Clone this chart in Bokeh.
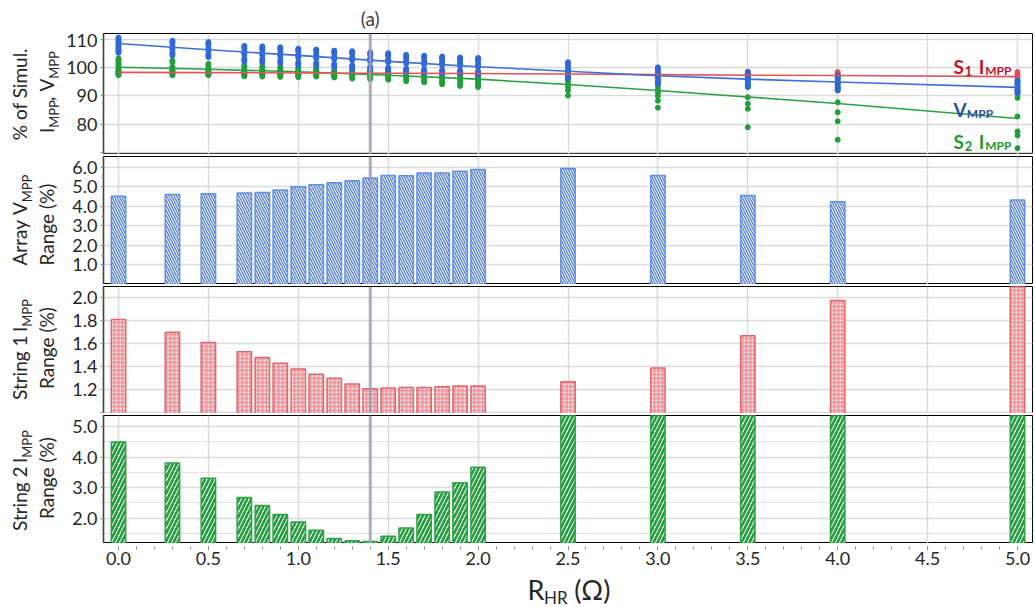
import math
from bokeh.plotting import figure
from bokeh.layouts import column, row
from bokeh.models import (Range1d, FixedTicker, Span, Label, Spacer,
                          PrintfTickFormatter)
from bokeh.core.properties import value
from bokeh.embed import file_html
from bokeh.resources import INLINE

# ---------------- data ----------------
r_hr = [0.0, 0.3, 0.5, 0.7, 0.8, 0.9, 1.0, 1.1, 1.2, 1.3, 1.4, 1.5, 1.6, 1.7,
        1.8, 1.9, 2.0, 2.5, 3.0, 3.5, 4.0, 5.0]

array_vmpp_range = [4.52, 4.61, 4.64, 4.68, 4.71, 4.83, 5.00, 5.10, 5.21, 5.31, 5.45,
                    5.58, 5.57, 5.70, 5.70, 5.80, 5.88, 5.93, 5.58, 4.56, 4.24, 4.32]
string1_impp_range = [1.81, 1.70, 1.61, 1.53, 1.48, 1.43, 1.38, 1.335, 1.30, 1.25, 1.21,
                      1.215, 1.22, 1.22, 1.226, 1.232, 1.232, 1.27, 1.39, 1.67, 1.975, 2.15]
string2_impp_range = [4.49, 3.81, 3.31, 2.68, 2.42, 2.12, 1.88, 1.61, 1.34, 1.26, 1.24,
                      1.41, 1.68, 2.12, 2.86, 3.16, 3.67, 6.2, 7.0, 7.8, 8.6, 9.8]

# % of simulated value, individual cases at each R_HR
vmpp_pts = [
    [110.6, 110.1, 109.6, 109.1, 108.6, 108.1, 107.6, 107.1, 106.6, 106.1, 105.6, 105.2],
    [109.5, 109.0, 108.5, 107.4, 106.9, 106.4, 105.3, 104.8, 104.3],
    [109.0, 108.5, 108.0, 106.9, 106.4, 105.9, 104.7, 104.2, 103.7],
    [107.7, 107.2, 106.7, 105.6, 105.1, 104.6, 103.2, 102.6, 102.0],
    [107.5, 107.0, 106.5, 105.4, 104.9, 104.4, 103.0, 102.4, 101.8],
    [107.2, 106.7, 106.2, 105.1, 104.6, 104.1, 102.7, 102.1, 101.5],
    [106.7, 106.2, 105.7, 104.6, 104.1, 103.6, 102.0, 101.4, 100.8],
    [106.4, 105.9, 105.4, 104.3, 103.8, 103.3, 101.7, 101.1, 100.5],
    [106.0, 105.5, 105.0, 103.9, 103.4, 102.9, 101.3, 100.7, 100.1],
    [105.8, 105.3, 104.8, 103.6, 103.1, 102.6, 100.8, 100.2, 99.6],
    [105.4, 104.9, 104.4, 103.2, 102.7, 102.2, 100.3, 99.7, 99.0],
    [105.1, 104.6, 104.1, 102.9, 102.4, 101.9, 100.0, 99.4, 98.8],
    [104.5, 104.0, 103.5, 102.4, 101.9, 101.4, 99.6, 99.0, 98.4],
    [104.2, 103.7, 103.2, 102.1, 101.6, 101.1, 99.3, 98.7, 98.1],
    [103.9, 103.4, 102.9, 101.8, 101.3, 100.8, 99.1, 98.5, 97.9],
    [103.6, 103.1, 102.6, 101.5, 101.0, 100.5, 98.9, 98.4, 97.9],
    [103.4, 102.9, 102.4, 101.2, 100.7, 100.2, 98.5, 97.9, 97.3],
    [101.9, 101.4, 100.9, 99.8, 99.3, 98.8, 97.3, 96.7, 96.1],
    [100.1, 99.6, 99.1, 97.9, 97.4, 96.9, 95.5, 94.9, 94.3],
    [98.4, 97.9, 97.4, 96.3, 95.8, 95.3, 94.2, 93.7, 93.2],
    [97.2, 96.7, 96.2, 95.1, 94.6, 94.1, 93.1, 92.6, 92.1],
    [95.4, 94.9, 94.4, 93.4, 92.9, 92.4, 91.8, 91.3, 90.9],
]
s1_impp_pts = [
    [99.0, 98.5, 98.0, 97.6], [98.8, 98.3, 97.9, 97.5], [98.8, 98.3, 97.9, 97.5],
    [98.7, 98.2, 97.8, 97.4], [98.7, 98.2, 97.8, 97.4], [98.7, 98.2, 97.8, 97.4],
    [98.7, 98.2, 97.8, 97.4], [98.7, 98.2, 97.8, 97.4], [98.7, 98.2, 97.8, 97.4],
    [98.7, 98.2, 97.8, 97.4], [98.7, 98.2, 97.8, 97.4], [98.7, 98.2, 97.8, 97.4],
    [98.7, 98.2, 97.8, 97.4], [98.7, 98.2, 97.8, 97.4], [98.7, 98.2, 97.8, 97.4],
    [98.7, 98.2, 97.8, 97.4], [98.7, 98.2, 97.8, 97.4], [98.6, 98.1, 97.6, 97.2],
    [98.5, 98.0, 97.5, 97.0], [98.5, 97.9, 97.3, 96.8], [98.4, 97.8, 97.2, 96.6],
    [98.4, 97.7, 97.0, 96.3],
]
s2_impp_pts = [
    [103.2, 102.6, 102.0, 101.4, 100.8, 100.2, 99.6, 99.0, 98.4, 97.8, 97.3],
    [102.5, 101.9, 100.2, 99.6, 99.0, 98.4, 97.8, 97.3],
    [101.3, 100.7, 99.6, 99.0, 98.4, 97.8, 97.3],
    [100.7, 100.1, 99.3, 98.7, 98.1, 97.5, 96.9],
    [100.5, 99.9, 99.2, 98.6, 98.0, 97.4, 96.8],
    [100.2, 99.6, 99.0, 98.4, 97.8, 97.2, 96.7],
    [99.9, 99.3, 98.8, 98.2, 97.6, 97.1, 96.6],
    [99.5, 99.0, 98.5, 97.9, 97.3, 96.8],
    [98.9, 98.4, 97.9, 97.4, 96.9, 96.5],
    [98.9, 98.3, 97.7, 97.1, 96.6, 96.1],
    [98.8, 98.2, 97.6, 97.0, 96.5, 95.9],
    [98.7, 98.1, 97.5, 96.9, 96.3, 95.7],
    [98.3, 97.7, 97.1, 96.5, 95.9, 95.2],
    [98.3, 97.6, 96.9, 96.2, 95.5, 94.8],
    [98.3, 97.5, 96.8, 96.0, 95.2, 94.7, 94.1],
    [98.3, 97.5, 96.7, 95.9, 95.1, 94.3, 93.5],
    [98.3, 97.5, 96.7, 95.9, 95.1, 94.3, 93.6, 93.1],
    [99.5, 98.6, 97.5, 96.4, 95.3, 94.2, 93.0, 91.9, 90.1],
    [97.2, 96.2, 95.0, 93.8, 92.5, 91.2, 89.9, 88.3, 85.8],
    [97.2, 96.2, 95.2, 94.1, 93.1, 89.5, 87.2, 85.4, 78.9],
    [96.0, 95.0, 94.0, 92.9, 91.9, 87.7, 84.2, 81.0, 74.5],
    [95.4, 94.3, 93.2, 92.1, 90.9, 89.3, 82.7, 77.4, 76.0, 71.5],
]

trend_x = [0.0, 0.5, 1.0, 1.5, 2.0, 2.5, 3.0, 3.5, 4.0, 5.0]
vmpp_trend = [108.5, 106.3, 104.3, 102.2, 100.3, 98.7, 97.1, 95.9, 94.9, 93.0]
s1_impp_trend = [98.3, 98.2, 98.1, 98.0, 97.9, 97.7, 97.5, 97.3, 97.2, 96.8]
s2_impp_trend = [100.1, 99.4, 98.5, 97.3, 95.9, 94.0, 91.9, 89.6, 87.3, 82.0]

marker_x = 1.4

x_ticks = [0.0, 0.5, 1.0, 1.5, 2.0, 2.5, 3.0, 3.5, 4.0, 4.5, 5.0]
x_minor = [round(i * 0.1, 1) for i in range(0, 51)]
p1_ticks = [70, 80, 90, 100, 110]
p2_ticks = [1, 2, 3, 4, 5, 6]
p2_minor = [0.5, 1.5, 2.5, 3.5, 4.5, 5.5]
p3_ticks = [1.0, 1.2, 1.4, 1.6, 1.8, 2.0]
p3_minor = [1.1, 1.3, 1.5, 1.7, 1.9]
p4_ticks = [2, 3, 4, 5]
p4_minor = [1.5, 2.5, 3.5, 4.5]

# ---------------- style ----------------
FONT = "Lato"
TXT = "#262626"
BLUE = "#2f68d6"
RED = "#e04a53"
GREEN = "#1f9e3a"
MID = 0.35   # distance from alphabetic baseline to text middle, in em

CHAR_W = {' ': 0.26, '%': 0.79, '.': 0.24, ',': 0.24, '(': 0.31, ')': 0.31,
          'A': 0.67, 'H': 0.75, 'I': 0.27, 'M': 0.88, 'P': 0.59, 'R': 0.61,
          'S': 0.52, 'V': 0.67, 'a': 0.50, 'e': 0.52, 'f': 0.32, 'g': 0.47,
          'i': 0.24, 'l': 0.24, 'm': 0.84, 'n': 0.55, 'o': 0.55, 'r': 0.36,
          's': 0.41, 't': 0.34, 'u': 0.55, 'y': 0.50, '\u03a9': 0.78}


def text_width(s, size, bold=False):
    w = sum(CHAR_W.get(c, 0.58) for c in s) * size
    return w * (1.05 if bold else 1.0)


TOTAL_W = 1034
LAB_W = 62
FRAME_L = 103
BORDER_R = 2
x_range = Range1d(-0.0834, 5.0834)


def blank_fig(width, height, xr, yr, left=0, right=0, bg="white"):
    p = figure(width=width, height=height, x_range=xr, y_range=yr,
               output_backend="svg", toolbar_location=None,
               x_axis_location=None, y_axis_location=None,
               min_border_left=left, min_border_right=right,
               min_border_top=0, min_border_bottom=0)
    p.grid.visible = False
    p.outline_line_color = None
    p.background_fill_color = bg
    p.border_fill_color = bg
    return p


def separator():
    s = blank_fig(TOTAL_W - 12 - BORDER_R, 2, Range1d(0, 1), Range1d(0, 1), bg="black")
    return row(Spacer(width=12, height=2), s, spacing=0)


def panel(height, yr, ticks, minor, fmt):
    p = figure(width=TOTAL_W - LAB_W, height=height, x_range=x_range,
               y_range=Range1d(*yr), output_backend="svg", toolbar_location=None,
               x_axis_location=None,
               min_border_left=FRAME_L - LAB_W, min_border_right=BORDER_R,
               min_border_top=0, min_border_bottom=0)
    p.outline_line_color = "black"
    p.outline_line_width = 1
    p.background_fill_color = "white"
    p.border_fill_color = "white"
    p.xgrid.ticker = FixedTicker(ticks=x_ticks)
    p.xgrid.grid_line_color = "#dadada"
    p.xgrid.grid_line_width = 1.5
    yt = FixedTicker(ticks=ticks, minor_ticks=minor)
    p.yaxis.ticker = yt
    p.ygrid.ticker = yt
    p.ygrid.grid_line_color = "#dadada"
    p.ygrid.grid_line_width = 1.5
    p.yaxis.formatter = fmt
    p.yaxis.axis_line_color = "#404040"
    p.yaxis.axis_line_width = 1.6
    p.yaxis.major_tick_line_color = "#909090"
    p.yaxis.minor_tick_line_color = "#909090"
    p.yaxis.major_tick_out = 3
    p.yaxis.major_tick_in = 0
    p.yaxis.minor_tick_out = 2
    p.yaxis.minor_tick_in = 0
    p.yaxis.major_label_text_font = FONT
    p.yaxis.major_label_text_font_size = "18px"
    p.yaxis.major_label_text_color = TXT
    p.yaxis.major_label_standoff = 3
    p.add_layout(Span(location=marker_x, dimension="height", line_color="#9d9db0",
                      line_width=3, line_alpha=0.85))
    return p


def label_fig(height, lines):
    """Rotated (bottom-to-top) axis titles; x is the alphabetic baseline."""
    lf = blank_fig(LAB_W, height, Range1d(0, LAB_W), Range1d(0, height))
    for parts, x, yc in lines:
        total = sum(text_width(t, s) + g for t, s, sh, g in parts)
        y = yc - total / 2
        for t, s, sh, g in parts:
            y += g
            lf.text(x=[x + sh - MID * s], y=[y], text=[t], angle=math.pi / 2,
                    text_font=value(FONT), text_font_size=f"{s}px", text_color=TXT,
                    text_align="left", text_baseline="middle")
            y += text_width(t, s)
    return lf


def hlabel(p, parts, x, y, color, bold=False):
    off = 0
    for t, s, sh, g in parts:
        off += g
        p.add_layout(Label(x=x, y=y, x_offset=off, y_offset=-sh, text=t,
                           text_font=FONT, text_font_size=f"{s}px",
                           text_font_style="bold" if bold else "normal",
                           text_color=color, text_align="left",
                           text_baseline="alphabetic"))
        off += text_width(t, s, bold)


fmt1 = PrintfTickFormatter(format="%.1f")

# ---------------- top strip with "(a)" ----------------
top = blank_fig(TOTAL_W, 31, x_range, Range1d(0, 31), left=FRAME_L, right=BORDER_R)
top.text(x=[marker_x], y=[13], text=["(a)"], text_font=value(FONT),
         text_font_size="19px", text_color="#404040", text_align="center",
         text_baseline="middle")

# ---------------- panel 1 ----------------
H1, H2, H3, H4 = 121, 128, 127, 128
p1 = panel(H1, (69.25, 112.05), p1_ticks, [], PrintfTickFormatter(format="%d"))
p1.yaxis.major_label_overrides = {70: ""}


def flat(pts):
    xs, ys = [], []
    for xv, col in zip(r_hr, pts):
        for v in col:
            xs.append(xv)
            ys.append(v)
    return xs, ys


for pts, c in ((s1_impp_pts, RED), (s2_impp_pts, GREEN), (vmpp_pts, BLUE)):
    xs, ys = flat(pts)
    p1.scatter(xs, ys, size=5, marker="circle", fill_color=c, line_color=c)

p1.line(trend_x, s2_impp_trend, line_color="#2aa043", line_width=1.6)
p1.line(trend_x, s1_impp_trend, line_color="#e2545b", line_width=1.6)
p1.line(trend_x, vmpp_trend, line_color="#3e6fd9", line_width=1.6)

hlabel(p1, [("S", 19, 0, 0), ("1", 13, 4, 1), ("I", 19, 0, 6), ("MPP", 12, 4, 1)],
       4.644, 100.3, "#c0142a", bold=True)
hlabel(p1, [("V", 19, 0, 0), ("MPP", 12, 4, 0)], 4.644, 85.3, "#2d4f9f", bold=True)
hlabel(p1, [("S", 19, 0, 0), ("2", 13, 4, 1), ("I", 19, 0, 6), ("MPP", 12, 4, 1)],
       4.644, 73.8, "#1f9a2f", bold=True)

l1 = label_fig(H1, [
    ([("% of Simul.", 19, 0, 0)], 26, 60),
    ([("I", 19, 0, 0), ("MPP", 13, 5, 0), (",", 19, 0, 0), ("V", 19, 0, 5),
      ("MPP", 13, 5, 0)], 53, 62),
])

# ---------------- panel 2 ----------------
p2 = panel(H2, (0.0, 6.55), p2_ticks, p2_minor, fmt1)
p2.vbar(x=r_hr, top=array_vmpp_range, bottom=0, width=0.08, fill_color="white",
        line_color="#5f8ee6", line_width=1.5, hatch_pattern="left_diagonal_line",
        hatch_color="#3f71d8", hatch_scale=5, hatch_weight=1.2)
l2 = label_fig(H2, [
    ([("Array", 19, 0, 0), ("V", 19, 0, 5), ("MPP", 13, 5, 0)], 26, 64),
    ([("Range (%)", 19, 0, 0)], 53, 60),
])

# ---------------- panel 3 ----------------
p3 = panel(H3, (0.994, 2.097), p3_ticks, p3_minor, fmt1)
p3.yaxis.major_label_overrides = {1.0: ""}
p3.vbar(x=r_hr, top=string1_impp_range, bottom=0, width=0.08, fill_color="#ee9ca2",
        line_color="#e2656b", line_width=1.5, hatch_pattern="dot",
        hatch_color="white", hatch_scale=4, hatch_weight=1.5)
l3 = label_fig(H3, [
    ([("String 1", 19, 0, 0), ("I", 19, 0, 5), ("MPP", 13, 5, 0)], 26, 63.5),
    ([("Range (%)", 19, 0, 0)], 53, 65.5),
])

# ---------------- panel 4 ----------------
p4 = panel(H4, (1.173, 5.36), p4_ticks, p4_minor, fmt1)
p4.ygrid.minor_grid_line_color = "#e3e3e3"
p4.ygrid.minor_grid_line_width = 1.2
p4.vbar(x=r_hr, top=string2_impp_range, bottom=0, width=0.08, fill_color="white",
        line_color="#2ea046", line_width=1.5, hatch_pattern="right_diagonal_line",
        hatch_color="#1f9e3a", hatch_scale=8, hatch_weight=2.6)
l4 = label_fig(H4, [
    ([("String 2", 19, 0, 0), ("I", 19, 0, 5), ("MPP", 13, 5, 0)], 26, 62.5),
    ([("Range (%)", 19, 0, 0)], 53, 65.5),
])

# ---------------- x axis strip ----------------
xa = figure(width=TOTAL_W, height=28, x_range=x_range, y_range=Range1d(0, 1),
            output_backend="svg", toolbar_location=None, y_axis_location=None,
            min_border_left=FRAME_L, min_border_right=BORDER_R,
            min_border_top=0, min_border_bottom=27)
xa.grid.visible = False
xa.outline_line_color = None
xa.border_fill_color = "white"
xa.xaxis.axis_label = None
xa.xaxis.ticker = FixedTicker(ticks=x_ticks, minor_ticks=x_minor)
xa.xaxis.formatter = fmt1
xa.xaxis.axis_line_color = None
xa.xaxis.major_tick_line_color = "#909090"
xa.xaxis.minor_tick_line_color = "#909090"
xa.xaxis.major_tick_out = 4
xa.xaxis.major_tick_in = 0
xa.xaxis.minor_tick_out = 3
xa.xaxis.minor_tick_in = 0
xa.xaxis.major_label_text_font = FONT
xa.xaxis.major_label_text_font_size = "18px"
xa.xaxis.major_label_text_color = TXT
xa.xaxis.major_label_standoff = 1

# ---------------- x title strip ----------------
ft = blank_fig(TOTAL_W, 34, x_range, Range1d(0, 34), left=FRAME_L, right=BORDER_R)
off = 0
base = 8.3
for t, s, sh, g in [("R", 27, 0, 0), ("HR", 17, 4, 0), ("(\u03a9)", 27, 0, 7)]:
    off += g
    ft.text(x=[2.275], y=[base - sh + MID * s], x_offset=off, text=[t],
            text_font=value(FONT), text_font_size=f"{s}px", text_color=TXT,
            text_align="left", text_baseline="middle")
    off += text_width(t, s)

layout = column(
    top, separator(),
    row(l1, p1, spacing=0), separator(),
    row(l2, p2, spacing=0), separator(),
    row(l3, p3, spacing=0), separator(),
    row(l4, p4, spacing=0), separator(),
    xa, ft, spacing=0)

open("out.html", "w").write(file_html(layout, INLINE))
